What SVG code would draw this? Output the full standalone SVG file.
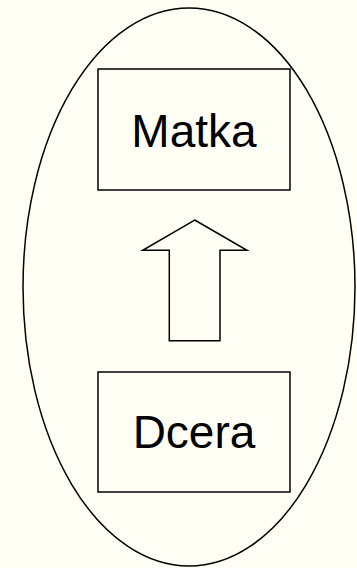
<svg xmlns="http://www.w3.org/2000/svg" width="357" height="568" viewBox="0 0 357 568">
<style>
.s{fill:none;stroke:#000;stroke-width:1.5}
.t{font-family:"Liberation Sans",Arial,sans-serif;font-size:46px;fill:#000;text-anchor:middle}
</style>
<rect width="357" height="568" fill="#FFFFF5"/>
<g id="group">
<ellipse class="s" cx="189" cy="287" rx="166" ry="279"/>
</g>
<g id="matka">
<rect class="s" x="98" y="69" width="192" height="121"/>
<text class="t" x="194" y="147">Matka</text>
</g>
<g id="dcera">
<rect class="s" x="98" y="372" width="192" height="120"/>
<text class="t" x="194" y="448">Dcera</text>
</g>
<g id="connectors">
<polygon class="s" points="194.7,220 247,250.3 220,250.3 220,340.7 169.3,340.7 169.3,250.3 142.7,250.3"/>
</g>
</svg>
